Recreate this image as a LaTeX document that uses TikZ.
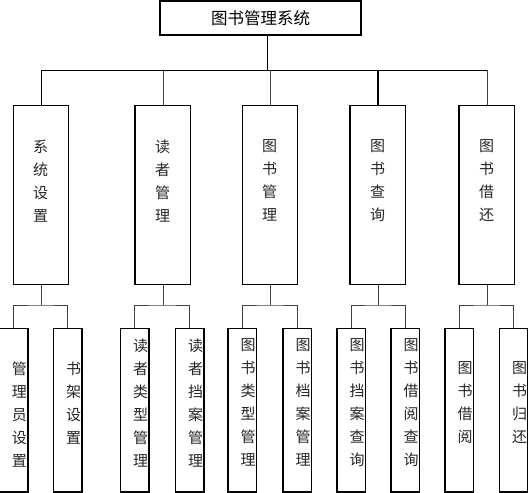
\documentclass[tikz,border=0pt]{standalone}
\usepackage{fontspec}
\usetikzlibrary{calc}
\setmainfont{Noto Sans CJK SC}
\begin{document}
\begin{tikzpicture}[x=1pt,y=-1pt,
  titlebox/.style={draw, line width=1.6pt, minimum width=201pt, minimum height=34pt, inner sep=0pt, font=\fontsize{16.5}{18}\selectfont},
  box/.style={draw, line width=1pt, minimum width=55pt, minimum height=179pt, inner sep=0pt, anchor=north west},
  leaf/.style={draw, line width=1pt, minimum width=28pt, minimum height=163pt, inner sep=0pt, anchor=north},
  stack/.style={align=center, inner sep=0pt, anchor=north, font=\fontsize{15}{23}\selectfont, text=black!85},
  conn/.style={line width=1pt, black!75},
  heavy/.style={line width=2.2pt}]
\useasboundingbox (0,0) rectangle (528,493);

% title
\node[titlebox] (top) at (260.5,17.8) {图书管理系统};

% level 2 boxes
\node[box] (b1) at (13,105) {};
\node[box] (b2) at (135,105) {};
\node[box] (b3) at (242,105) {};
\node[box] (b4) at (350,105) {};
\node[box] (b5) at (459,105) {};
\draw[heavy] (b2.north west) -- (b2.south west);
\draw[heavy] (b4.north west) -- (b4.south west);
\draw[heavy] (b5.north west) -- (b5.south west);

\node[stack] (t1) at (40.5,139.5) {系\\统\\设\\置};
\node[stack] (t2) at (162.5,139.5) {读\\者\\管\\理};
\node[stack] (t3) at (269.5,139.5) {图\\书\\管\\理};
\node[stack] (t4) at (377.5,139.5) {图\\书\\查\\询};
\node[stack] (t5) at (486.5,139.5) {图\\书\\借\\还};

% top connectors
\coordinate (bar) at (267,70);
\draw[line width=1pt] (top.south -| bar) -- (bar);
\draw[line width=1pt] (b1.north) |- (b5.north |- bar);
\draw[conn] (b2.north |- bar) -- (b2.north);
\draw[conn] (b3.north |- bar) -- (b3.north);
\draw[line width=1.6pt] (b4.north |- bar) -- (b4.north);
\draw[conn] (b5.north |- bar) -- (b5.north);

% leaves
\node[leaf] (l11) at (13.5,328) {};
\node[leaf] (l12) at (67.5,328) {};
\node[leaf] (l21) at (134.5,328) {};
\node[leaf] (l22) at (189.5,328) {};
\node[leaf] (l31) at (242,328) {};
\node[leaf] (l32) at (297,328) {};
\node[leaf] (l41) at (351,328) {};
\node[leaf] (l42) at (405,328) {};
\node[leaf] (l51) at (459,328) {};
\node[leaf] (l52) at (513.5,328) {};

% leaf texts, clipped at the boxes
\begin{scope}\clip (l11.south west) rectangle (l11.north east);
\node[stack] (s11) at (19.5,361.5) {管\\理\\员\\设\\置};\end{scope}
\begin{scope}\clip (l12.south west) rectangle (l12.north east);
\node[stack] (s12) at (73.5,361.5) {书\\架\\设\\置};\end{scope}
\begin{scope}\clip (l21.south west) rectangle (l21.north east);
\node[stack] (s21) at (140.5,338.5) {读\\者\\类\\型\\管\\理};\end{scope}
\begin{scope}\clip (l22.south west) rectangle (l22.north east);
\node[stack] (s22) at (195.5,338.5) {读\\者\\挡\\案\\管\\理};\end{scope}
\begin{scope}\clip (l31.south west) rectangle (l31.north east);
\node[stack] (s31) at (248,338.5) {图\\书\\类\\型\\管\\理};\end{scope}
\begin{scope}\clip (l32.south west) rectangle (l32.north east);
\node[stack] (s32) at (303,338.5) {图\\书\\档\\案\\管\\理};\end{scope}
\begin{scope}\clip (l41.south west) rectangle (l41.north east);
\node[stack] (s41) at (357,338.5) {图\\书\\挡\\案\\查\\询};\end{scope}
\begin{scope}\clip (l42.south west) rectangle (l42.north east);
\node[stack] (s42) at (411,338.5) {图\\书\\借\\阅\\查\\询};\end{scope}
\begin{scope}\clip (l51.south west) rectangle (l51.north east);
\node[stack] (s51) at (465,361.5) {图\\书\\借\\阅};\end{scope}
\begin{scope}\clip (l52.south west) rectangle (l52.north east);
\node[stack] (s52) at (519.5,361.5) {图\\书\\归\\还};\end{scope}

% redraw leaf borders over clipped text
\foreach \n in {l11,l12,l21,l22,l31,l32,l41,l42,l51,l52}
  \draw[line width=1pt] (\n.south west) rectangle (\n.north east);
\draw[heavy] (l11.north east) |- (l11.south west);
\draw[heavy] (l12.north east) |- (l12.south west);

% level 3 connectors
\foreach \p/\a/\b in {b1/l11/l12, b2/l21/l22, b3/l31/l32, b4/l41/l42, b5/l51/l52} {
  \draw[conn] (\p.south) -- ++(0,20);
  \draw[conn] (\a.north) |- ($(\p.south)+(0,20)$) -| (\b.north);
}
\end{tikzpicture}
\end{document}
